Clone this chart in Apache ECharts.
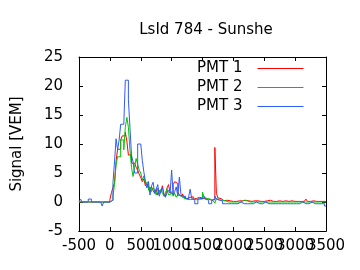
<!DOCTYPE html>
<html>
<head>
<meta charset="utf-8">
<script src="https://cdn.jsdelivr.net/npm/echarts@6/dist/echarts.min.js"></script>
<style>
  html, body { margin: 0; padding: 0; background: #fff; }
  #chart { width: 360px; height: 270px; }
</style>
</head>
<body>
<div id="chart"></div>
<script>
// trace bins: 25 ns wide, first bin starts at -500 ns
const binStart = -500
const binWidth = 25

const pmt1 = [
  0, 0, 0, 0, 0, 0, 0, 0, 0, 0, 0, 0, 0, 0, 0, 0, 0, 0, 0, 0,
  0.4, 1.6, 2.5, 3.3, 7.0, 9.1, 9.1, 10.7, 11.4, 11.4, 12.0, 10.5, 8.1, 8.1, 6.7, 6.7, 7.0, 6.0, 5.5, 4.8,
  4.2, 3.5, 4.0, 2.8, 3.2, 2.5, 1.8, 2.6, 2.0, 1.5, 2.2, 1.2, 2.0, 1.6, 2.8, 1.4, 1.0, 2.4, 3.0, 1.6,
  1.4, 3.0, 3.5, 3.2, 1.8, 1.2, 1.0, 1.4, 0.8, 0.6, 0.5, 0.8, 0.6, 0.9, 0.5, 0.6, 0.4, 0.8, 0.5, 0.7,
  0.6, 0.5, 0.4, 0.5, 0.3, 0.3, 0.5, 0.4, 9.4, 1.5, 0.7, 0.6, 0.3, 0.2, 0.2, 0.3, 0.1, 0.2, 0.3, 0.1,
  0.2, 0.1, 0.3, 0.2, 0.1, 0.2, 0.5, 0.3, 0.1, 0.2, 0.1, 0.1, 0.3, 0.2, 0.5, 0.2, 0.1, 0.1, 0.2, 0.1,
  0.1, 0.2, 0.1, 0.3, 0.1, 0.1, 0.2, 0.1, 0.1, 0.2, 0.1, 0.1, 0.1, 0.2, 0.1, 0.1, 0.1, 0.2, 0.1, 0.1,
  0.2, 0.1, 0.1, 0.1, 0.2, 0.1, 0.1, 0.5, 0.1, 0.1, 0.1, 0.2, 0.1, 0.1, 0.1, 0.1, 0.2, 0.1, 0.1, 0.1
]

const pmt2 = [
  0, 0, 0, 0, 0, 0, 0, 0, 0, 0, 0, 0, 0, 0, 0, 0, 0, 0, 0, 0,
  0, 0.3, 1.0, 3.0, 6.4, 7.8, 7.8, 10.7, 10.7, 9.0, 12.9, 14.6, 12.9, 9.0, 6.0, 4.4, 6.0, 7.5, 6.5, 5.5,
  5.0, 3.8, 4.5, 3.2, 3.5, 2.0, 2.6, 1.8, 2.4, 2.0, 1.2, 2.4, 1.4, 2.2, 1.6, 1.0, 1.5, 2.3, 1.2, 1.4,
  1.8, 1.0, 1.5, 0.8, 1.3, 1.0, 0.7, 1.1, 0.6, 0.5, 0.8, 0.4, 0.6, 0.5, 0.7, 0.4, 0.6, 0.5, 0.7, 0.5,
  1.7, 0.8, 0.6, 0.4, 0.5, 0.3, 0.2, 0, -0.2, 0.6, 0.4, 0.3, 0.3, 0, 0.2, 0.1, 0, 0, 0, 0,
  0, 0, 0, 0.2, 0, 0, 0.3, 0.6, 0.2, 0, 0, 0, 0, 0, 0, 0, 0, 0, 0, 0,
  0, 0, 0, 0, 0, 0, 0, 0, 0, 0, 0, 0, 0, 0, 0, 0, 0, 0, 0, 0,
  0, 0, 0, 0, 0, 0, 0, 0, 0, 0, 0, 0, 0, 0, 0, 0, 0, 0, 0, 0
]

const pmt3 = [
  0, 0.5, 0, 0, 0, 0, 0.5, 0.5, 0, 0, 0, 0, 0, 0, 0, -0.7, 0, 0, 0, 0,
  0, 0.3, 3.3, 6.9, 10.9, 9.0, 10.7, 13.4, 13.4, 13.4, 21.0, 21.0, 17.6, 12.9, 8.1, 6.9, 5.0, 5.0, 10.0, 10.0,
  10.0, 7.2, 5.2, 3.6, 2.4, 3.5, 1.2, 2.8, 3.4, 1.5, 2.2, 3.0, 1.0, 1.8, 2.5, 1.2, 0.8, 1.6, 2.0, 1.5,
  5.5, 1.2, 1.8, 2.6, 1.0, 4.3, 1.4, 0.8, 1.0, 0.6, 0.5, 0.9, 2.2, 0.6, 0.3, -0.3, -0.3, 0.5, 0.6, 0.5,
  0.6, 1.0, 0.5, 0.3, -0.3, -0.3, 0.3, 0.5, 1.0, 0.5, 0.3, 0.2, 0.2, -0.3, -0.3, -0.3, -0.3, -0.3, -0.3, -0.3,
  -0.3, -0.3, -0.3, -0.3, 0, -0.3, -0.3, -0.3, -0.3, -0.3, -0.3, 0, -0.3, -0.3, 0, -0.3, -0.3, -0.3, -0.3, -0.3,
  0, -0.3, -0.3, -0.3, -0.3, -0.3, -0.3, -0.3, -0.3, 0, -0.3, -0.3, -0.3, 0, -0.3, -0.3, -0.3, -0.3, -0.3, -0.3,
  -0.3, -0.3, -0.3, -0.3, 0, -0.3, -0.3, -0.3, -0.3, -0.3, 0, -0.3, -0.3, -0.3, -0.3, -0.3, -0.3, -0.3, -0.3, -0.7
]

const seriesNames = ['PMT 1', 'PMT 2', 'PMT 3']
const seriesColors = ['#ff0000', '#00c800', '#2f5bff']

const xTicks = { min: -500, max: 3500, interval: 500 }
const yTicks = { min: -5, max: 25, interval: 5 }

function toSteps(values) {
  let pts = values.map((v, i) => [binStart + i * binWidth, v])
  // close the last bin
  pts.push([binStart + values.length * binWidth, values[values.length - 1]])
  return pts
}

const font = 'DejaVu Sans'
const fontSize = 15
let chartDom = echarts.init(document.getElementById('chart'), null, { renderer: 'canvas' })

// labels: 'all' | 'odd' | 'even' | 'none'  (ticks counted from min)
const tickAxis = (pos, labels, lines) => ({
  position: pos,
  axisLine: { show: lines, onZero: false, lineStyle: { color: '#000', width: 1 } },
  axisTick: { show: lines, inside: true, length: 4, lineStyle: { color: '#000' } },
  axisLabel: {
    show: labels !== 'none',
    color: '#000',
    fontFamily: font,
    fontSize: fontSize,
    interval: 0,
    hideOverlap: false,
    showMinLabel: true,
    showMaxLabel: true,
    formatter: (v) => {
      let k = Math.round((v - xTicks.min) / xTicks.interval) % 2
      if (labels === 'even' && k !== 0) return ''
      if (labels === 'odd' && k !== 1) return ''
      return String(v)
    },
  },
  splitLine: { show: false },
})

const xBase = { type: 'value', min: xTicks.min, max: xTicks.max, interval: xTicks.interval }
const yBase = { type: 'value', min: yTicks.min, max: yTicks.max, interval: yTicks.interval }

let option = {
  animation: false,
  backgroundColor: '#fff',
  title: {
    text: 'LsId 784 - Sunshe',
    left: 201,
    textAlign: 'center',
    top: 18,
    textStyle: { color: '#000', fontFamily: font, fontSize: fontSize, fontWeight: 'normal' },
  },
  grid: { left: 79, right: 34, top: 57, bottom: 39, containLabel: false },
  legend: {
    data: seriesNames,
    orient: 'vertical',
    align: 'right',
    right: 51,
    top: 55,
    itemWidth: 46,
    itemHeight: 10,
    itemGap: 2,
    itemStyle: { opacity: 0 },
    lineStyle: { width: 1 },
    textStyle: { color: '#000', fontFamily: font, fontSize: fontSize, lineHeight: 17, padding: [0, 10, 0, 0] },
  },
  xAxis: [
    Object.assign({}, xBase, tickAxis('bottom', 'even', true)),
    Object.assign({}, xBase, tickAxis('bottom', 'odd', true)),
    Object.assign({}, xBase, tickAxis('top', 'none', true)),
  ],
  yAxis: [
    Object.assign({}, yBase, tickAxis('left', 'none', true)),
    Object.assign({}, yBase, tickAxis('right', 'none', true)),
    // label-only axis, pushed a little further out from the frame
    Object.assign({
      offset: 8,
      name: 'Signal [VEM]', nameLocation: 'middle', nameGap: 46,
      nameTextStyle: { color: '#000', fontFamily: font, fontSize: fontSize },
    }, yBase, tickAxis('left', 'all', false)),
  ],
  series: [pmt1, pmt2, pmt3].map((vals, k) => ({
    name: seriesNames[k],
    type: 'line',
    step: 'end',
    data: toSteps(vals),
    symbol: 'none',
    color: seriesColors[k],
    lineStyle: { width: 1, color: seriesColors[k] },
    clip: true,
    z: 2 + k,
  })),
}

chartDom.setOption(option)
</script>
</body>
</html>
